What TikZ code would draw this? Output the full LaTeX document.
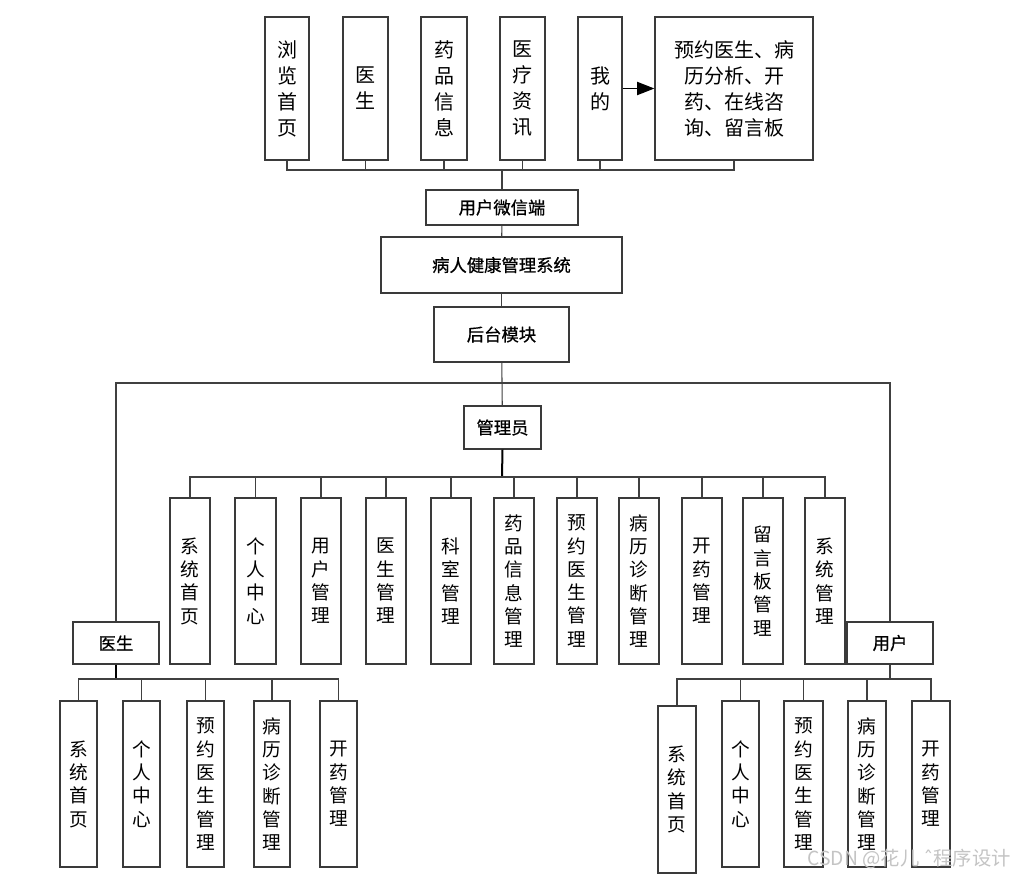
\documentclass[tikz,border=0pt]{standalone}
\usepackage{fontspec}
\setmainfont{Noto Sans CJK SC}
\newfontfamily\dvfont{DejaVu Sans}
\newfontfamily\hfont[FakeBold=0.7]{Noto Sans CJK SC}
\usetikzlibrary{arrows.meta}
\definecolor{boxc}{HTML}{3A3A3A}
\definecolor{linec}{HTML}{404040}
\definecolor{wmc}{HTML}{C4C4C4}
\newcommand\mybox[7]{\node[#6, minimum width={(#4-#2)*0.75pt}, minimum height={(#5-#3)*0.75pt}] (#1) at ({(#2+#4)/2},{(#3+#5)/2}) {#7};}
\begin{document}
\begin{tikzpicture}[x=0.75pt,y=-0.75pt,
  bx/.style={draw=boxc, line width=1pt, inner sep=0pt, fill=white},
  vt/.style={bx, align=center, font=\fontsize{14}{17.5}\selectfont},
  tt/.style={bx, align=center, font=\fontsize{15}{19.5}\selectfont},
  ht/.style={bx, font=\hfont\fontsize{13}{15}\selectfont},
  ln/.style={draw=linec, line width=0.8pt},
  tk/.style={draw=black, line width=1.5pt}]
\useasboundingbox[fill=white] (0,0) rectangle (1015,879);

% top row
\mybox{t1}{265}{17}{309}{160}{tt}{浏\\览\\首\\页}
\mybox{t2}{343}{17}{388}{160}{tt}{医\\生}
\mybox{t3}{421}{17}{467}{160}{tt}{药\\品\\信\\息}
\mybox{t4}{500}{17}{545}{160}{tt}{医\\疗\\资\\讯}
\mybox{t5}{578}{17}{622}{160}{tt}{我\\的}
\mybox{t6}{655}{17}{813}{160}{tt}{预约医生、病\\历分析、开\\药、在线咨\\询、留言板}
\draw[draw=black, line width=0.8pt, -{Triangle[length=13pt,width=10pt]}] (t5.east) -- (t6.west);

\mybox{wx}{426}{190}{578}{225}{ht}{用户微信端}
\mybox{sys}{381}{237}{622}{293}{ht}{病人健康管理系统}
\mybox{bk}{434}{307}{569}{362}{ht}{后台模块}
\mybox{adm}{464}{406}{541}{449}{ht}{管理员}
\mybox{doc}{73}{622}{159}{664}{ht}{医生}
\mybox{usr}{847}{622}{933}{664}{ht}{用户}

\coordinate (tb) at (502,170);
\foreach \n in {t1,t2,t3,t4,t5,t6} \draw[ln] (\n.south) |- (tb);
\draw[ln] (tb) -- (wx.north);
\draw[ln] (wx) -- (sys);
\draw[ln] (sys) -- (bk);
\draw[ln] (bk) -- (adm);
\coordinate (hb) at (502,383);
\draw[ln] (hb) -| (doc.north);
\draw[ln] (hb) -| (usr.north);

% admin row
\mybox{a1}{170}{498}{210}{664}{vt}{系\\统\\首\\页}
\mybox{a2}{235}{498}{276}{664}{vt}{个\\人\\中\\心}
\mybox{a3}{301}{498}{341}{664}{vt}{用\\户\\管\\理}
\mybox{a4}{366}{498}{406}{664}{vt}{医\\生\\管\\理}
\mybox{a5}{431}{498}{471}{664}{vt}{科\\室\\管\\理}
\mybox{a6}{494}{498}{534}{664}{vt}{药\\品\\信\\息\\管\\理}
\mybox{a7}{557}{498}{597}{664}{vt}{预\\约\\医\\生\\管\\理}
\mybox{a8}{619}{498}{659}{664}{vt}{病\\历\\诊\\断\\管\\理}
\mybox{a9}{682}{498}{722}{664}{vt}{开\\药\\管\\理}
\mybox{a10}{743}{498}{783}{664}{vt}{留\\言\\板\\管\\理}
\mybox{a11}{805}{498}{845}{664}{vt}{系\\统\\管\\理}
\coordinate (ab) at (502,477);
\draw[tk] (adm.south) -- (ab);
\foreach \n in {a1,a2,a3,a4,a5,a6,a7,a8,a9,a10,a11} \draw[ln] (ab) -| (\n.north);

% doctor row
\mybox{d1}{60}{701}{97}{867}{vt}{系\\统\\首\\页}
\mybox{d2}{123}{701}{160}{867}{vt}{个\\人\\中\\心}
\mybox{d3}{187}{701}{224}{867}{vt}{预\\约\\医\\生\\管\\理}
\mybox{d4}{254}{701}{290}{867}{vt}{病\\历\\诊\\断\\管\\理}
\mybox{d5}{320}{701}{357}{867}{vt}{开\\药\\管\\理}
\coordinate (db) at (116,679);
\draw[tk] (doc.south) -- (db);
\foreach \n in {d1,d2,d3,d4,d5} \draw[ln] (db) -| (\n.north);

% user row
\mybox{u1}{658}{706}{696}{873}{vt}{系\\统\\首\\页}
\mybox{u2}{722}{701}{759}{867}{vt}{个\\人\\中\\心}
\mybox{u3}{784}{701}{823}{867}{vt}{预\\约\\医\\生\\管\\理}
\mybox{u4}{848}{701}{886}{867}{vt}{病\\历\\诊\\断\\管\\理}
\mybox{u5}{912}{701}{950}{867}{vt}{开\\药\\管\\理}
\coordinate (ub) at (890,679);
\draw[ln] (usr.south) -- (ub);
\foreach \n in {u1,u2,u3,u4,u5} \draw[ln] (ub) -| (\n.north);

\node[text=wmc, font=\fontsize{14.5}{16}\selectfont, anchor=east, inner sep=0pt] (wm) at (1011,859) {CSDN @花儿 {\dvfont ˆ}程序设计};
\end{tikzpicture}
\end{document}
